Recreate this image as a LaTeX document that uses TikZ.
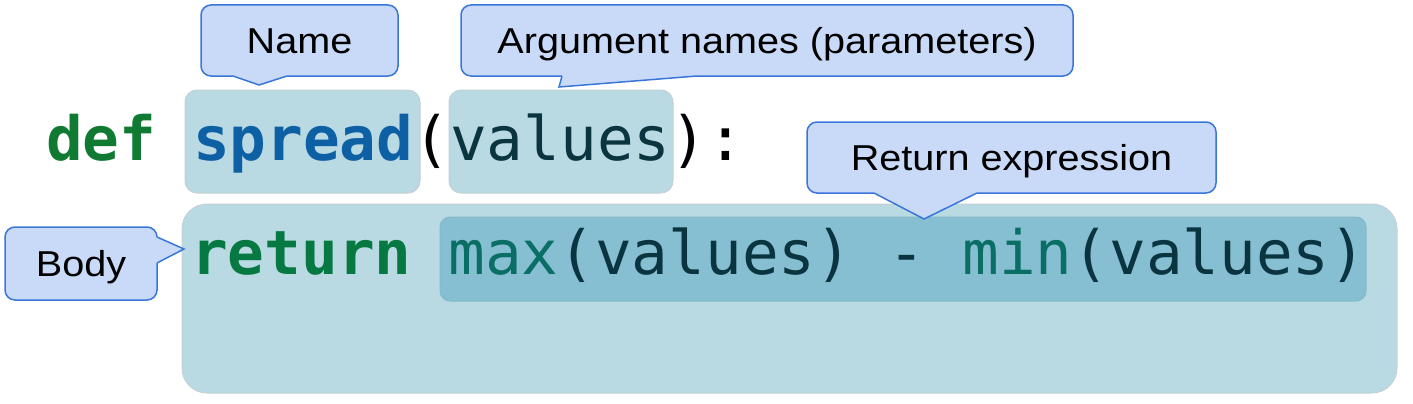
\documentclass[tikz,border=0pt]{standalone}
\usepackage{fontspec}
\newfontfamily\codefont{DejaVu Sans Mono}
\newfontfamily\labelfont[FakeStretch=1.1]{Liberation Sans}
\definecolor{hl}{RGB}{185,218,227}
\definecolor{hlinner}{RGB}{134,191,210}
\definecolor{hlborder}{RGB}{196,208,213}
\definecolor{cfill}{RGB}{201,218,248}
\definecolor{cdraw}{RGB}{58,118,216}
\definecolor{defgreen}{RGB}{16,122,50}
\definecolor{retgreen}{RGB}{6,120,66}
\definecolor{spreadblue}{RGB}{14,96,165}
\definecolor{valdark}{RGB}{10,52,64}
\definecolor{fnteal}{RGB}{10,110,100}
\tikzset{
  hlbox/.style={fill=hl, draw=hlborder, line width=1pt, rounded corners=12pt},
  innerbox/.style={fill=hlinner, draw=hlinner!90!gray, line width=1pt, rounded corners=10pt},
  cbox/.style={fill=cfill, draw=cdraw, line width=1.5pt, rounded corners=10pt, inner sep=0pt,
    font=\labelfont\fontsize{36pt}{40pt}\selectfont, text height=25.6pt, text depth=0pt},
  cline/.style={draw=cdraw, line width=1.5pt, line join=miter},
  code/.style={font=\codefont\fontsize{61pt}{70pt}\selectfont, inner sep=0pt, anchor=base west},
}
\begin{document}
\begin{tikzpicture}[x=1pt,y=-1pt]
\useasboundingbox (0,0) rectangle (1413,404);
% highlight areas
\draw[hlbox, rounded corners=25pt] (182,204) rectangle (1397,393);
\draw[innerbox] (440,217) rectangle (1366,301);
\draw[hlbox] (185,90) rectangle (420,193);
\draw[hlbox] (449,90) rectangle (673,193);
% code
\node[code] (line1) at (46,160) {\textcolor{defgreen}{\bfseries def} \textcolor{spreadblue}{\bfseries spread}(\textcolor{valdark}{values}):};
\node[code, text=valdark] (line2) at (191,274) {\textcolor{retgreen}{\bfseries return} \textcolor{fnteal}{max}(values) - \textcolor{fnteal}{min}(values)};
% callouts
\node[cbox, minimum width=197pt, minimum height=71pt] (name) at (299.5,40.5) {Name};
\fill[cfill] (233,74) -- (233,76) -- (259,85) -- (287,76) -- (287,74) -- cycle;
\draw[cline] (233,76) -- (259,85) -- (287,76);
\node[cbox, minimum width=612pt, minimum height=71pt] (args) at (767,40.5) {Argument names (parameters)};
\fill[cfill] (562,74) -- (562,76) -- (559,87) -- (697,76) -- (697,74) -- cycle;
\draw[cline] (562,76) -- (559,87) -- (697,76);
\node[cbox, minimum width=409pt, minimum height=71pt] (ret) at (1011.5,157.5) {Return expression};
\fill[cfill] (874,191) -- (874,193) -- (924,219) -- (977,193) -- (977,191) -- cycle;
\draw[cline] (874,193) -- (924,219) -- (977,193);
\node[cbox, minimum width=152pt, minimum height=73pt] (body) at (81,263.5) {Body};
\fill[cfill] (155,237) -- (157,237) -- (184,249) -- (157,263) -- (155,263) -- cycle;
\draw[cline] (157,237) -- (184,249) -- (157,263);
\end{tikzpicture}
\end{document}
